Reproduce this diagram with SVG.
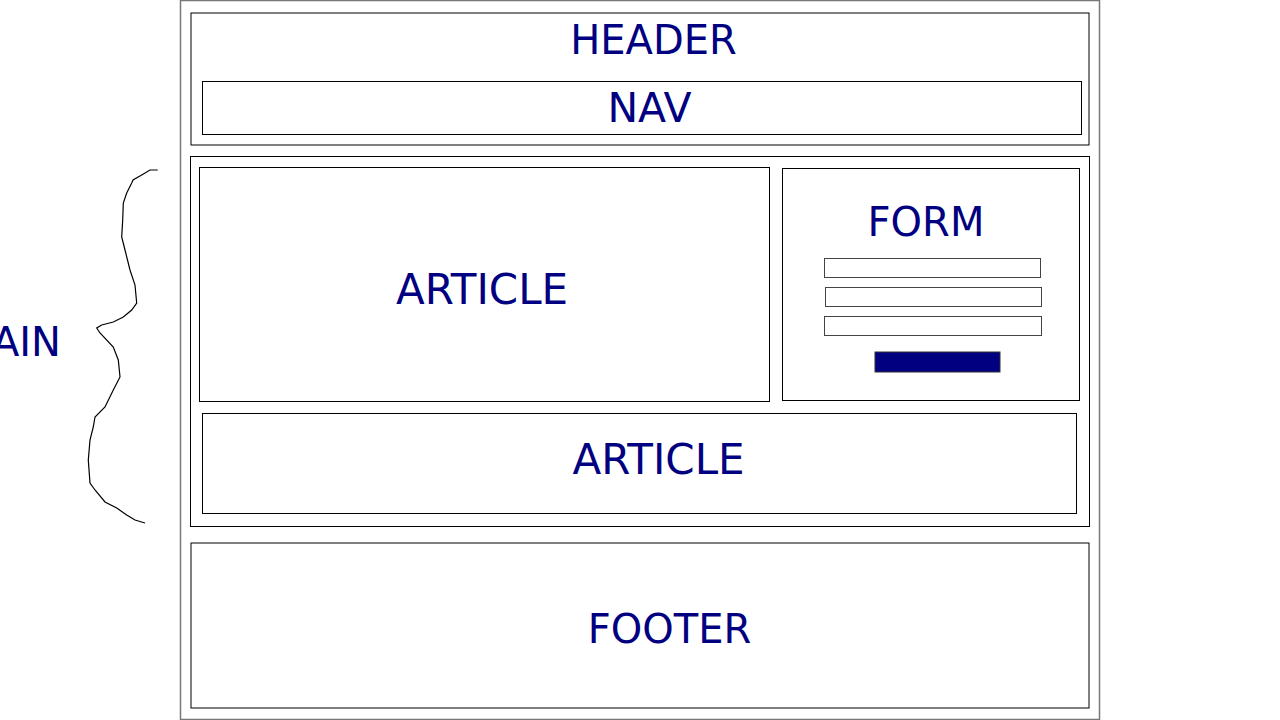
<svg xmlns="http://www.w3.org/2000/svg" width="1280" height="720" viewBox="0 0 1280 720">
<style>
.box{fill:#fff;stroke:#000;stroke-width:1}
.outer{fill:#fff;stroke:#777;stroke-width:1.5}
.lbl{font-family:"DejaVu Sans",Verdana,sans-serif;font-size:40px;fill:#000080;text-anchor:middle}
.inp{fill:#fff;stroke:#444;stroke-width:1}
</style>
<rect width="1280" height="720" fill="#fff"/>
<g id="page"><rect class="outer" x="180.5" y="0.5" width="919" height="719"/></g>
<g id="header"><rect class="box" x="191" y="13" width="898" height="132" stroke-width="1.3"/><text class="lbl" x="653.5" y="54">HEADER</text></g>
<g id="nav"><rect class="box" x="202.5" y="81.5" width="879" height="53"/><text class="lbl" x="649.5" y="122" style="font-size:41px">NAV</text></g>
<g id="main"><rect class="box" x="190.5" y="156.5" width="899" height="370" stroke="#333"/></g>
<g id="article1"><rect class="box" x="199.5" y="167.5" width="570" height="234" stroke="#333"/><text class="lbl" x="482" y="304" style="font-size:42px">ARTICLE</text></g>
<g id="form"><rect class="box" x="782.5" y="168.5" width="297" height="232" stroke="#444"/><text class="lbl" x="926" y="236">FORM</text>
<rect class="inp" x="824.5" y="258.5" width="216" height="19"/>
<rect class="inp" x="825.5" y="287.5" width="216" height="19"/>
<rect class="inp" x="824.5" y="316.5" width="217" height="19"/>
<rect x="875" y="352" width="125" height="20" fill="#000080" stroke="#333" stroke-width="1"/></g>
<g id="article2"><rect class="box" x="202.5" y="413.5" width="874" height="100" stroke="#222"/><text class="lbl" x="658.5" y="474" style="font-size:42px">ARTICLE</text></g>
<g id="footer"><rect class="box" x="191" y="543" width="898" height="165" stroke-width="1.3"/><text class="lbl" x="669.5" y="643">FOOTER</text></g>
<g id="main-label"><text class="lbl" x="61" y="356" style="text-anchor:end">MAIN</text></g>
<g id="connectors"><path fill="none" stroke="#000" stroke-width="1.2" d="M157.7,170 L150,170 L141.7,175 L133,180 L131.7,183 L126.7,193 L123.3,203 L122.7,220 L121.7,237 L125,250 L130,270 L135,285 L136.7,303 L131.7,310 L123.3,317 L113.3,322 L101.7,325 L96.7,328 L100,333 L113.3,347 L118.3,360 L120,377 L113.3,390 L105,407 L95,417 L93.3,427 L90,440 L88.3,460 L90,483 L95,490 L105,502 L116.7,508 L126.7,515 L135,520 L145,523"/></g>
</svg>
